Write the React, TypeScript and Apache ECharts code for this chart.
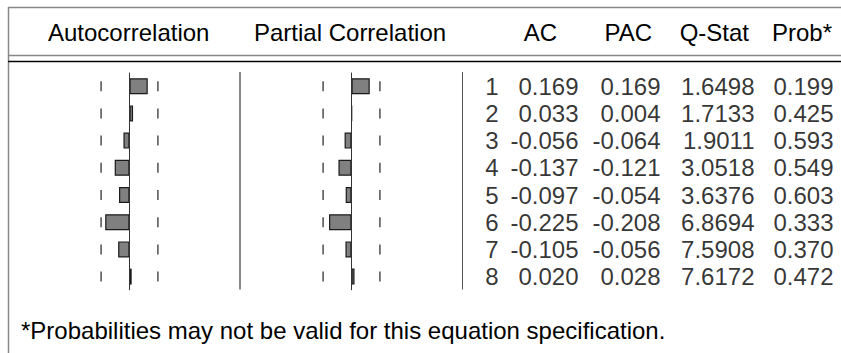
import React, { useEffect, useRef } from "react";
import * as echarts from "echarts";

const LAGS = [1, 2, 3, 4, 5, 6, 7, 8];
const AC = [0.169, 0.033, -0.056, -0.137, -0.097, -0.225, -0.105, 0.02];
const PAC = [0.169, 0.004, -0.064, -0.121, -0.054, -0.208, -0.056, 0.028];
const QSTAT = [1.6498, 1.7133, 1.9011, 3.0518, 3.6376, 6.8694, 7.5908, 7.6172];
const PROB = [0.199, 0.425, 0.593, 0.549, 0.603, 0.333, 0.37, 0.472];
const BOUND = 0.263;
const HEADER_LABELS = ["Autocorrelation", "Partial Correlation", "AC", "PAC", "Q-Stat", "Prob*"];
const FOOTNOTE = "*Probabilities may not be valid for this equation specification.";

const FONT = '"Liberation Sans", Arial, sans-serif';
const W = 841;
const H = 353;
const ROW_TOP = 72.6;
const ROW_H = 217.6;

export default function App() {
  const ref = useRef<HTMLDivElement>(null);
  useEffect(() => {
    if (!ref.current) return;
    const chart = echarts.init(ref.current, null, { renderer: "svg", width: W, height: H });
    const cats = LAGS.map(String);
    const hidden = { show: false };
    const catAxis = (gi: number) => ({
      type: "category",
      gridIndex: gi,
      data: cats,
      inverse: true,
      axisLine: hidden,
      axisTick: hidden,
      axisLabel: hidden,
      splitLine: hidden,
    });
    const valAxis = (gi: number, min: number, max: number) => ({
      type: "value",
      gridIndex: gi,
      min,
      max,
      axisLine: hidden,
      axisTick: hidden,
      axisLabel: hidden,
      splitLine: hidden,
    });
    const barSeries = (gi: number, vals: number[]) => ({
      type: "bar",
      xAxisIndex: gi,
      yAxisIndex: gi,
      data: vals,
      barWidth: 16,
      itemStyle: { color: "#808080", borderColor: "#1a1a1a", borderWidth: 1.2 },
      markLine: {
        silent: true,
        symbol: "none",
        label: { show: false },
        lineStyle: { color: "#333", width: 1, type: "solid" },
        data: [{ xAxis: 0 }],
      },
    });
    const boundSeries = (gi: number) => ({
      type: "scatter",
      xAxisIndex: gi,
      yAxisIndex: gi,
      symbol: "rect",
      symbolSize: [1.5, 10],
      itemStyle: { color: "#222" },
      data: LAGS.flatMap((_, i) => [
        [-BOUND, i],
        [BOUND, i],
      ]),
    });
    const COLS: [number, string[]][] = [
      [499, LAGS.map((v) => String(v))],
      [579, AC.map((v) => v.toFixed(3))],
      [661, PAC.map((v) => v.toFixed(3))],
      [755, QSTAT.map((v) => v.toFixed(4))],
      [834, PROB.map((v) => v.toFixed(3))],
    ];
    const textSeries = COLS.map(([x, strs]) => ({
      type: "scatter",
      xAxisIndex: 2,
      yAxisIndex: 2,
      symbolSize: 1,
      itemStyle: { color: "rgba(0,0,0,0)" },
      data: strs.map((_, i) => [x, i]),
      label: {
        show: true,
        position: "left",
        distance: 0,
        formatter: (p: any) => strs[p.dataIndex],
        fontSize: 24,
        fontFamily: FONT,
        color: "#000",
      },
    }));
    const text = (s: string, x: number, y: number, align: string) => ({
      type: "text",
      x,
      y,
      style: {
        text: s,
        font: `24px ${FONT}`,
        fill: "#000",
        align,
        verticalAlign: "middle",
        textAlign: align,
        textVerticalAlign: "middle",
      },
    });
    const line = (x1: number, y1: number, x2: number, y2: number, color: string, w: number) => ({
      type: "line",
      shape: { x1, y1, x2, y2 },
      style: { stroke: color, lineWidth: w },
    });
    chart.setOption({
      animation: false,
      backgroundColor: "#fff",
      grid: [
        { left: 75.5, width: 108, top: ROW_TOP, height: ROW_H },
        { left: 297.5, width: 108, top: ROW_TOP, height: ROW_H },
        { left: 0, width: W, top: ROW_TOP, height: ROW_H },
      ],
      xAxis: [valAxis(0, -0.5, 0.5), valAxis(1, -0.5, 0.5), valAxis(2, 0, W)],
      yAxis: [catAxis(0), catAxis(1), catAxis(2)],
      series: [barSeries(0, AC), boundSeries(0), barSeries(1, PAC), boundSeries(1), ...textSeries],
      graphic: [
        line(8, 7.5, W, 7.5, "#888", 1.5),
        line(8.5, 7, 8.5, H, "#888", 1.5),
        line(8, 55.5, W, 55.5, "#888", 1.5),
        line(8, 61.5, W, 61.5, "#000", 1.5),
        line(240, 72, 240, 289.5, "#888", 2),
        line(462.5, 72, 462.5, 289.5, "#555", 1),
        text(HEADER_LABELS[0], 48, 32, "left"),
        text(HEADER_LABELS[1], 254, 32, "left"),
        text(HEADER_LABELS[2], 557, 32, "right"),
        text(HEADER_LABELS[3], 652, 32, "right"),
        text(HEADER_LABELS[4], 749, 32, "right"),
        text(HEADER_LABELS[5], 832, 32, "right"),
        text(FOOTNOTE, 21, 330.5, "left"),
      ],
    });
    return () => chart.dispose();
  }, []);
  return (
    <div
      ref={ref}
      style={{ position: "fixed", left: 0, top: 0, width: W, height: H, background: "#fff" }}
    />
  );
}
